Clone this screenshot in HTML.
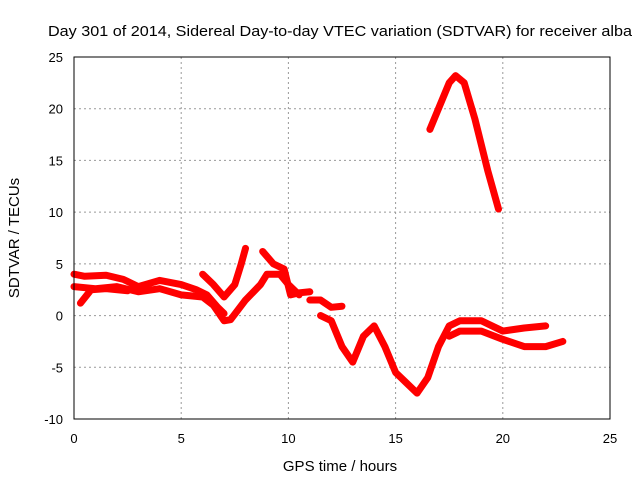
<!DOCTYPE html>
<html><head><meta charset="utf-8"><style>
body{margin:0;background:#fff}
svg{display:block;font-family:"Liberation Sans",sans-serif;font-size:13px}
</style></head><body>
<svg id="c" width="640" height="480">
<rect width="640" height="480" fill="#fff"/>
<g id="grid"></g>
<g id="ticks"></g>
<g id="series"></g>
<rect x="74" y="57" width="536" height="362" fill="none" stroke="#000" stroke-width="1"/>
<text x="48" y="36" textLength="584" lengthAdjust="spacingAndGlyphs" font-size="15">Day 301 of 2014, Sidereal Day-to-day VTEC variation (SDTVAR) for receiver alba</text>
<text x="340" y="471" text-anchor="middle" font-size="15">GPS time / hours</text>
<text transform="translate(19,238) rotate(-90)" text-anchor="middle" font-size="15">SDTVAR / TECUs</text>
</svg>
<script>
const xTicks=[0,5,10,15,20,25];
const yTicks=[-10,-5,0,5,10,15,20,25];
const trackUpper=[[0,4],[0.5,3.8],[1.5,3.9],[2.3,3.5],[3,2.8],[4,3.4],[5,3],[5.7,2.5],[6.2,2],[6.7,0.8],[7,0.2]];
const trackLower=[[0,2.8],[1,2.6],[2,2.8],[3,2.3],[4,2.6],[5,2],[6,1.8],[6.5,1],[7,-0.5],[7.3,-0.4],[8,1.5],[8.7,3],[9,4],[9.6,4],[10,3],[10.5,2]];
const trackShort=[[0.3,1.2],[0.8,2.5],[1.5,2.6],[2.5,2.4]];
const trackRise=[[6,4],[6.5,3],[7,1.8],[7.5,3],[7.8,5],[8,6.5]];
const trackDrop=[[8.8,6.2],[9.3,5],[9.8,4.5],[10.1,2],[10.5,2.2],[11,2.3]];
const trackMid=[[11,1.5],[11.5,1.5],[12,0.8],[12.5,0.9]];
const trackMain=[[11.5,0],[12,-0.5],[12.5,-3],[13,-4.5],[13.5,-2],[14,-1],[14.5,-3],[15,-5.5],[15.5,-6.5],[16,-7.5],[16.5,-6],[17,-3],[17.5,-1],[18,-0.5],[19,-0.5],[19.5,-1],[20,-1.5],[21,-1.2],[22,-1]];
const trackLow=[[17.5,-2],[18,-1.5],[19,-1.5],[20,-2.3],[21,-3],[22,-3],[22.8,-2.5]];
const trackPeak=[[16.6,18],[17,20],[17.5,22.5],[17.8,23.2],[18.2,22.5],[18.7,19],[19.3,14],[19.8,10.3]];
const tracks=[trackUpper,trackLower,trackShort,trackRise,trackDrop,trackMid,trackMain,trackLow,trackPeak];
const NS='http://www.w3.org/2000/svg';
const px=x=>74+x*536/25, py=v=>57+(25-v)*362/35;
const grid=document.getElementById('grid'),ticks=document.getElementById('ticks'),ser=document.getElementById('series');
function el(t,a,p){const e=document.createElementNS(NS,t);for(const k in a)e.setAttribute(k,a[k]);p.appendChild(e);return e;}
xTicks.forEach(t=>{
 const g=el('line',{x1:px(t),x2:px(t),y1:57,y2:419,stroke:'#999','stroke-dasharray':'2,3'},grid);
 
 
 const l=el('text',{x:px(t),y:443,'text-anchor':'middle'},ticks);l.textContent=t;
 
 
});
yTicks.forEach(t=>{
 const g=el('line',{x1:74,x2:610,y1:py(t),y2:py(t),stroke:'#999','stroke-dasharray':'2,3'},grid);
 
 
 const l=el('text',{x:63,y:py(t)+5,'text-anchor':'end'},ticks);l.textContent=t;
 
 
});
tracks.forEach(tr=>{
 const p=el('polyline',{points:tr.map(d=>px(d[0])+','+py(d[1])).join(' '),fill:'none',stroke:'#f00','stroke-width':7,'stroke-linejoin':'round','stroke-linecap':'round'},ser);
 
 
});
</script>
</body></html>
